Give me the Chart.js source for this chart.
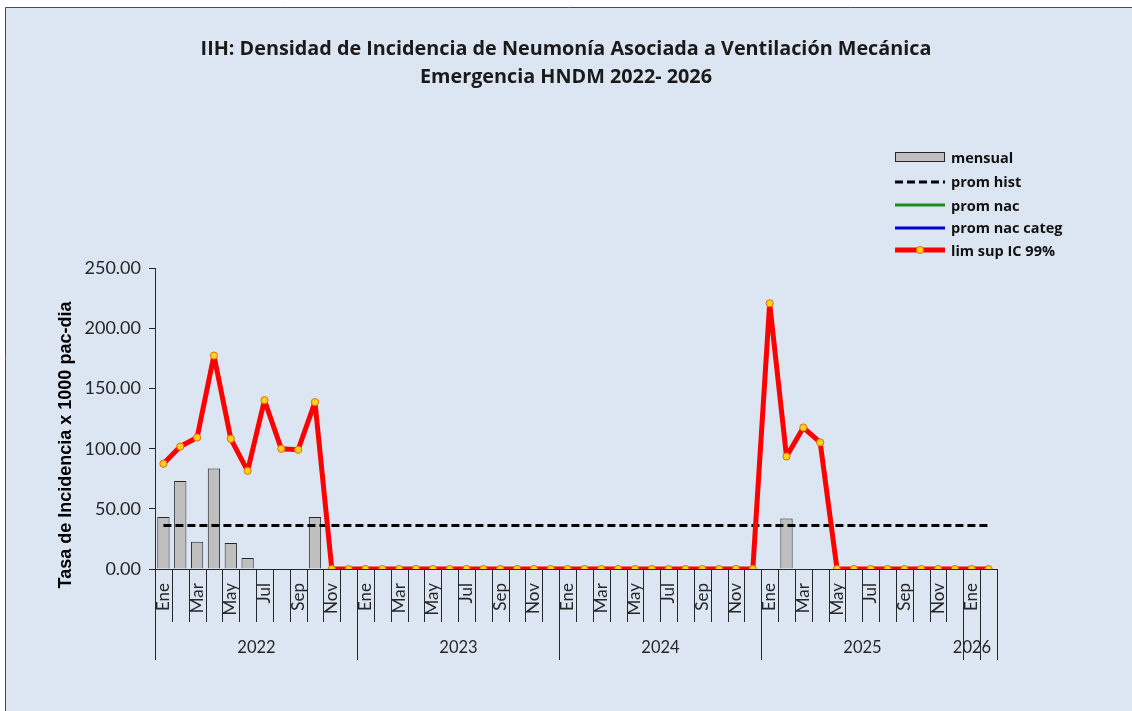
<!DOCTYPE html>
<html>
<head>
<meta charset="utf-8">
<script src="https://cdn.jsdelivr.net/npm/chart.js@4.4.1/dist/chart.umd.min.js"></script>
<style>
html,body{margin:0;padding:0;background:#fff;}
#wrap{position:relative;width:1132px;height:711px;overflow:hidden;}
#c{position:absolute;left:0;top:0;}
#legend{position:absolute;left:0;top:0;width:1132px;height:711px;pointer-events:none;font-family:"Open Sans",Lato,sans-serif;font-weight:bold;font-size:14.5px;color:#111;}
.item{position:absolute;left:894px;height:24px;display:flex;align-items:center;white-space:nowrap;}
.item svg{margin-right:5px;display:block;}
</style>
</head>
<body>
<div id="wrap">
  <canvas id="c" width="1132" height="711"></canvas>
  <div id="legend"></div>
</div>
<script>
// ---------- DATA ----------
const titleLines = [
  "IIH: Densidad de Incidencia de Neumonía Asociada a Ventilación Mecánica",
  "Emergencia HNDM 2022- 2026"
];
const yAxisTitle = "Tasa de Incidencia x 1000 pac-dia";

const monthLabels = [
  "Ene","Feb","Mar","Abr","May","Jun","Jul","Ago","Sep","Oct","Nov","Dic",
  "Ene","Feb","Mar","Abr","May","Jun","Jul","Ago","Sep","Oct","Nov","Dic",
  "Ene","Feb","Mar","Abr","May","Jun","Jul","Ago","Sep","Oct","Nov","Dic",
  "Ene","Feb","Mar","Abr","May","Jun","Jul","Ago","Sep","Oct","Nov","Dic",
  "Ene","Feb"
];
const yearLabels = [
  "2022","2022","2022","2022","2022","2022","2022","2022","2022","2022","2022","2022",
  "2023","2023","2023","2023","2023","2023","2023","2023","2023","2023","2023","2023",
  "2024","2024","2024","2024","2024","2024","2024","2024","2024","2024","2024","2024",
  "2025","2025","2025","2025","2025","2025","2025","2025","2025","2025","2025","2025",
  "2026",""
];
const mensual = [
  43.2, 73.1, 22.7, 83.6, 21.6, 9.1, 0, 0, 0, 43.2, 0, 0,
  0, 0, 0, 0, 0, 0, 0, 0, 0, 0, 0, 0,
  0, 0, 0, 0, 0, 0, 0, 0, 0, 0, 0, 0,
  0, 42.0, 0, 0, 0, 0, 0, 0, 0, 0, 0, 0,
  0, 0
];
const promHist = [
  36.2,36.2,36.2,36.2,36.2,36.2,36.2,36.2,36.2,36.2,36.2,36.2,
  36.2,36.2,36.2,36.2,36.2,36.2,36.2,36.2,36.2,36.2,36.2,36.2,
  36.2,36.2,36.2,36.2,36.2,36.2,36.2,36.2,36.2,36.2,36.2,36.2,
  36.2,36.2,36.2,36.2,36.2,36.2,36.2,36.2,36.2,36.2,36.2,36.2,
  36.2,36.2
];
const promNac = [];
const promNacCateg = [];
const limSup = [
  87.5, 101.8, 109.3, 177.4, 108.2, 81.6, 140.3, 99.9, 99.1, 138.7, 0, 0,
  0, 0, 0, 0, 0, 0, 0, 0, 0, 0, 0, 0,
  0, 0, 0, 0, 0, 0, 0, 0, 0, 0, 0, 0,
  220.9, 93.5, 117.6, 105.2, 0, 0, 0, 0, 0, 0, 0, 0,
  0, 0
];
const yTicks = [0, 50, 100, 150, 200, 250];

// ---------- STYLE ----------
const BG = '#dce6f2';
const INK = '#262626';
const FONT = 'Lato, "Open Sans", sans-serif';
const TITLE_FONT = '"Open Sans", Lato, sans-serif';

const backgroundPlugin = {
  id: 'frameBg',
  beforeDraw(chart) {
    const ctx = chart.ctx;
    ctx.save();
    ctx.fillStyle = '#ffffff';
    ctx.fillRect(0, 0, chart.width, chart.height);
    ctx.fillStyle = BG;
    ctx.fillRect(5, 7, chart.width - 5, chart.height - 7);
    ctx.strokeStyle = '#4d4d4d';
    ctx.lineWidth = 1;
    ctx.beginPath();
    ctx.moveTo(5.5, chart.height);
    ctx.lineTo(5.5, 7.5);
    ctx.lineTo(chart.width, 7.5);
    ctx.stroke();
    ctx.restore();
  }
};

const multiAxisPlugin = {
  id: 'multiAxis',
  afterDraw(chart) {
    const x = chart.scales.x;
    const ctx = chart.ctx;
    const y0 = chart.chartArea.bottom;
    const n = monthLabels.length;
    ctx.save();
    ctx.strokeStyle = INK;
    ctx.lineWidth = 1;
    const bounds = [];
    for (let i = 0; i <= n; i++) {
      const px = Math.round(x.getPixelForValue(i - 0.5)) + 0.5;
      bounds.push(px);
      const long = (i === 0 || i === n || yearLabels[i] !== yearLabels[i - 1]);
      ctx.beginPath();
      ctx.moveTo(px, y0);
      ctx.lineTo(px, long ? 660 : 622);
      ctx.stroke();
    }
    // year labels
    ctx.fillStyle = INK;
    ctx.font = '16.5px ' + FONT;
    ctx.textAlign = 'center';
    ctx.textBaseline = 'middle';
    let start = 0;
    for (let i = 1; i <= n; i++) {
      if (i === n || yearLabels[i] !== yearLabels[start]) {
        if (yearLabels[start]) {
          ctx.fillText(yearLabels[start], (bounds[start] + bounds[i]) / 2, 648);
        }
        start = i;
      }
    }
    // y axis title
    ctx.translate(71, 445);
    ctx.rotate(-Math.PI / 2);
    ctx.font = 'bold 18px "Liberation Sans", Arial, sans-serif';
    ctx.textAlign = 'center';
    ctx.textBaseline = 'alphabetic';
    ctx.fillStyle = '#000';
    ctx.fillText(yAxisTitle, 0, 0);
    ctx.restore();
  }
};

const chart = new Chart(document.getElementById('c'), {
  type: 'bar',
  data: {
    labels: monthLabels,
    datasets: [
      {
        type: 'bar', label: 'mensual', data: mensual,
        backgroundColor: '#bfbfbf', borderColor: INK, borderWidth: 1,
        barPercentage: 0.73, categoryPercentage: 1, order: 5
      },
      {
        type: 'line', label: 'prom hist', data: promHist,
        borderColor: '#000', borderWidth: 3, borderDash: [8, 4],
        pointRadius: 0, fill: false, order: 4
      },
      {
        type: 'line', label: 'prom nac', data: promNac,
        borderColor: '#1f8a1f', borderWidth: 3, pointRadius: 0, fill: false, order: 3
      },
      {
        type: 'line', label: 'prom nac categ', data: promNacCateg,
        borderColor: '#0000cc', borderWidth: 3, pointRadius: 0, fill: false, order: 2
      },
      {
        type: 'line', label: 'lim sup IC 99%', data: limSup,
        borderColor: '#ff0000', borderWidth: 5, tension: 0,
        borderJoinStyle: 'round', borderCapStyle: 'round',
        pointRadius: 3.6, pointBackgroundColor: '#ffd21a', pointBorderColor: '#e46c0a',
        pointBorderWidth: 1, fill: false, order: 1
      }
    ]
  },
  options: {
    responsive: false,
    animation: false,
    devicePixelRatio: 1,
    layout: { padding: { left: 0, right: 0, top: 0, bottom: 0 } },
    plugins: {
      legend: { display: false },
      tooltip: { enabled: false },
      title: {
        display: true,
        text: titleLines,
        color: '#1a1a1a',
        font: { family: TITLE_FONT, size: 19.8, weight: 'bold', lineHeight: 1.42 },
        padding: { top: 35, bottom: 177 }
      }
    },
    scales: {
      x: {
        offset: true,
        grid: { display: false, drawTicks: false },
        border: { display: true, color: INK, width: 1 },
        ticks: {
          autoSkip: false, maxRotation: 90, minRotation: 90, padding: 14,
          color: INK, font: { family: FONT, size: 17 },
          callback: (v, i) => (i % 2 === 0 ? monthLabels[i] : '')
        },
        afterFit(s) { s.height = 142; }
      },
      y: {
        position: 'left',
        min: 0, max: 250,
        afterBuildTicks(s) { s.ticks = yTicks.map(v => ({ value: v })); },
        grid: { drawOnChartArea: false, drawTicks: true, tickLength: 6, color: INK },
        border: { display: true, color: INK, width: 1 },
        ticks: {
          padding: 8, color: INK, font: { family: FONT, size: 18 },
          callback: v => Number(v).toFixed(2)
        },
        afterFit(s) { s.width = 155; }
      },
      // empty right-hand margin reserved for the legend area
      yRight: {
        position: 'right',
        display: true,
        grid: { display: false, drawTicks: false },
        border: { display: false },
        ticks: { display: false },
        afterFit(s) { s.width = 135; }
      }
    }
  },
  plugins: [backgroundPlugin, multiAxisPlugin]
});

// ---------- HTML legend built from the chart's datasets ----------
const legendRowsY = [157.3, 181.7, 205, 227.7, 250];
function swatch(ds) {
  const w = 52, h = 14, m = h / 2;
  if (ds.type === 'bar') {
    return `<svg width="${w}" height="${h}"><rect x="1.5" y="2.5" width="${w - 3}" height="${h - 5}" fill="${ds.backgroundColor}" stroke="${ds.borderColor}" stroke-width="1"/></svg>`;
  }
  const dash = ds.borderDash ? `stroke-dasharray="${ds.borderDash.join(',')}"` : '';
  let s = `<svg width="${w}" height="${h}"><line x1="1" y1="${m}" x2="${w - 1}" y2="${m}" stroke="${ds.borderColor}" stroke-width="${ds.borderWidth}" ${dash}/>`;
  if (ds.pointRadius > 0) {
    s += `<circle cx="${w / 2}" cy="${m}" r="${ds.pointRadius}" fill="${ds.pointBackgroundColor}" stroke="${ds.pointBorderColor}" stroke-width="1"/>`;
  }
  return s + '</svg>';
}
const legendEl = document.getElementById('legend');
chart.data.datasets.forEach((ds, i) => {
  const row = document.createElement('div');
  row.className = 'item';
  row.style.top = (legendRowsY[i] - 12) + 'px';
  row.innerHTML = swatch(ds) + '<span>' + ds.label + '</span>';
  legendEl.appendChild(row);
});
</script>
</body>
</html>
